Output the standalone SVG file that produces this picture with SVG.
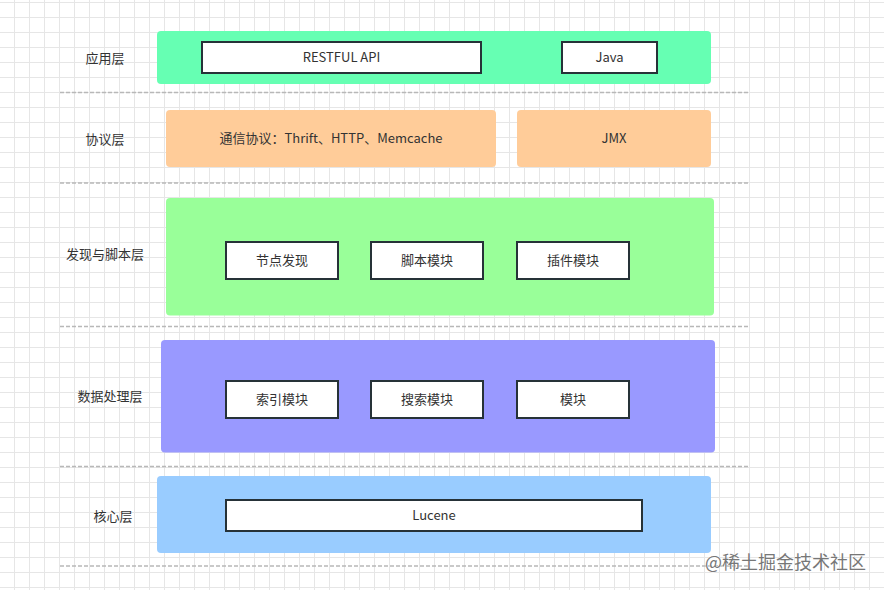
<svg xmlns="http://www.w3.org/2000/svg" width="884" height="590" viewBox="0 0 884 590">
<defs>
<pattern id="grid" x="14" y="2" width="15" height="15" patternUnits="userSpaceOnUse">
<path d="M0.5 0V15M0 0.5H15" stroke="#e6e6e6" stroke-width="1" fill="none"/>
</pattern>
<style>
.t{font-family:"Noto Sans CJK SC","Liberation Sans",sans-serif;font-size:13px;fill:#333;text-anchor:middle;dominant-baseline:central}
.layer{stroke:none}
.box{fill:#fff;stroke:#263238;stroke-width:2}
.sep{stroke:#b8b8b8;stroke-width:1.5;stroke-dasharray:4 2;fill:none}
.wm{font-family:"Noto Sans CJK SC",sans-serif;font-size:18px;fill:#777;stroke:#fff;stroke-width:0.6;paint-order:stroke}
</style>
</defs>
<rect width="884" height="590" fill="#fff"/>
<rect width="884" height="590" fill="url(#grid)"/>
<g id="separators">
<line class="sep" x1="60" y1="92.5" x2="750" y2="92.5"/>
<line class="sep" x1="60" y1="183" x2="750" y2="183"/>
<line class="sep" x1="60" y1="326.5" x2="750" y2="326.5"/>
<line class="sep" x1="60" y1="466.5" x2="750" y2="466.5"/>
<line class="sep" x1="60" y1="566" x2="750" y2="566"/>
</g>
<g id="labels">
<text class="t" x="105" y="57">应用层</text>
<text class="t" x="105" y="138">协议层</text>
<text class="t" x="105" y="253">发现与脚本层</text>
<text class="t" x="110" y="395">数据处理层</text>
<text class="t" x="113" y="515">核心层</text>
</g>
<g id="app-layer">
<rect class="layer" x="157" y="31" width="554" height="53" rx="4" fill="#66ffb3"/>
</g>
<g id="restful">
<rect class="box" x="202" y="42" width="279" height="31"/>
<text class="t" x="341.5" y="56.5">RESTFUL API</text>
</g>
<g id="java">
<rect class="box" x="562" y="42" width="95" height="31"/>
<text class="t" x="609.5" y="56.5">Java</text>
</g>
<g id="protocol">
<rect class="layer" x="166" y="110" width="330" height="57" rx="4" fill="#ffcc99"/>
<text class="t" x="331" y="137.5">通信协议：Thrift、HTTP、Memcache</text>
</g>
<g id="jmx">
<rect class="layer" x="517" y="110" width="194" height="57" rx="4" fill="#ffcc99"/>
<text class="t" x="614" y="137.5">JMX</text>
</g>
<g id="discovery-layer">
<rect class="layer" x="166" y="198" width="548" height="117.5" rx="4" fill="#99ff99"/>
</g>
<g id="node-discovery">
<rect class="box" x="226" y="242" width="112" height="37"/>
<text class="t" x="282" y="259.5">节点发现</text>
</g>
<g id="script-module">
<rect class="box" x="371" y="242" width="112" height="37"/>
<text class="t" x="427" y="259.5">脚本模块</text>
</g>
<g id="plugin-module">
<rect class="box" x="517" y="242" width="112" height="37"/>
<text class="t" x="573" y="259.5">插件模块</text>
</g>
<g id="data-layer">
<rect class="layer" x="161" y="340" width="554" height="112.5" rx="4" fill="#9999ff"/>
</g>
<g id="index-module">
<rect class="box" x="226" y="381" width="112" height="37"/>
<text class="t" x="282" y="398.5">索引模块</text>
</g>
<g id="search-module">
<rect class="box" x="371" y="381" width="112" height="37"/>
<text class="t" x="427" y="398.5">搜索模块</text>
</g>
<g id="module">
<rect class="box" x="517" y="381" width="112" height="37"/>
<text class="t" x="573" y="398.5">模块</text>
</g>
<g id="core-layer">
<rect class="layer" x="157" y="476" width="554" height="77" rx="4" fill="#99ccff"/>
</g>
<g id="lucene">
<rect class="box" x="226" y="500" width="416" height="31"/>
<text class="t" x="434" y="514.5">Lucene</text>
</g>
<g id="connectors"></g>
<text class="wm" x="705" y="569">@稀土掘金技术社区</text>
</svg>
